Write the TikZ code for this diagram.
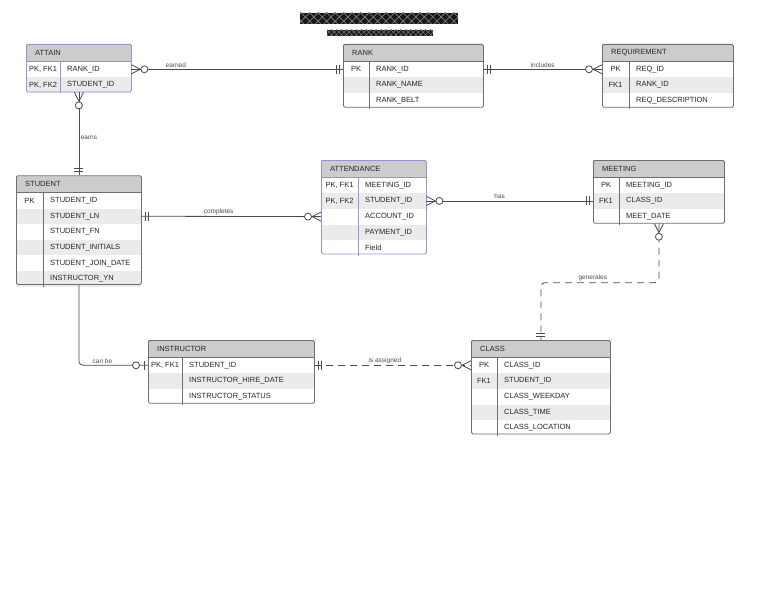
\documentclass[tikz,border=0pt]{standalone}
\usepackage{fontspec}
\setmainfont{Liberation Sans}
\usetikzlibrary{calc, positioning, decorations.markings, patterns.meta}

\definecolor{headgray}{HTML}{CCCCCC}
\definecolor{rowgray}{HTML}{EBEBEB}
\definecolor{framegray}{HTML}{6E6E6E}
\definecolor{linegray}{HTML}{4A4A4A}
\definecolor{selblue}{HTML}{9494D6}

\tikzstyle{erhead} = [rectangle, fill=headgray, minimum height=17pt, inner sep=0pt]
\tikzstyle{errow} = [rectangle, minimum height=15.3pt, inner sep=0pt]
\tikzstyle{ertext} = [font=\fontsize{7.5}{9}\selectfont, text=black!85, inner sep=0pt]
\tikzstyle{erframe} = [rectangle, rounded corners=1.5pt, line width=0.8pt, inner sep=0pt]
\tikzstyle{relation} = [draw=linegray, line width=0.8pt]
\tikzstyle{weak} = [relation, dash pattern=on 7pt off 5pt]
\tikzstyle{erlabel} = [font=\fontsize{6.5}{8}\selectfont, text=linegray, inner sep=1.5pt]

% end symbols, #1 = 1 at the start of a path, -1 at its end
\newcommand{\crowsfoot}[1]{%
  \draw[solid, linegray] (#1*9pt,0pt) -- (0pt,4.5pt) (#1*9pt,0pt) -- (0pt,-4.5pt);
  \draw[solid, linegray, fill=white] (#1*13pt,0pt) circle[radius=3.5pt];}
\newcommand{\onlyone}[1]{%
  \draw[solid, linegray] (#1*4pt,-4.5pt) -- (#1*4pt,4.5pt) (#1*7pt,-4.5pt) -- (#1*7pt,4.5pt);}
\newcommand{\zeroorone}[1]{%
  \draw[solid, linegray] (#1*4pt,-4.5pt) -- (#1*4pt,4.5pt);
  \draw[solid, linegray, fill=white] (#1*12pt,0pt) circle[radius=3.5pt];}

\tikzset{
  manystart/.style={postaction={decorate, decoration={markings, mark=at position 0 with {\crowsfoot{1}}}}},
  manyend/.style={postaction={decorate, decoration={markings, mark=at position 1 with {\crowsfoot{-1}}}}},
  onestart/.style={postaction={decorate, decoration={markings, mark=at position 0 with {\onlyone{1}}}}},
  oneend/.style={postaction={decorate, decoration={markings, mark=at position 1 with {\onlyone{-1}}}}},
  optend/.style={postaction={decorate, decoration={markings, mark=at position 1 with {\zeroorone{-1}}}}}
}

% #1 frame colour, #2 name, #3 top left, #4 width, #5 key column width, #6 rows, #7 title, #8 key/field list
\newcommand{\erentity}[8][framegray]{%
  \node[erhead, minimum width=#4, anchor=north west] (#2-head) at #3 {};
  \node[ertext, anchor=west] (#2-title) at ($(#2-head.west)+(9,0)$) {#7};
  \foreach \k/\f [count=\i, remember=\i as \j (initially 0)] in {#8} {
    \ifnum\j=0 \def\prev{#2-head}\else\def\prev{#2-\j}\fi
    \ifodd\i \def\rowfill{white}\else\def\rowfill{rowgray}\fi
    \node[errow, fill=\rowfill, minimum width=#4, below=0pt of \prev] (#2-\i) {};
    \node[ertext] (#2-k\i) at ($(#2-\i.west)+(#5/2,0)$) {\k};
    \node[ertext, anchor=west] (#2-f\i) at ($(#2-\i.west)+(#5+7,0)$) {\f};
  }
  \draw[#1, line width=0.8pt] (#2-head.south west) -- (#2-head.south east);
  \draw[#1, line width=0.9pt] ($(#2-head.south west)+(#5,0)$) -- ($(#2-#6.south west)+(#5,0)$);
  \node[erframe, draw=#1, minimum width=#4, minimum height={17+15.3*#6}, anchor=north west] (#2) at #3 {};
}

\begin{document}
\begin{tikzpicture}[x=1pt, y=-1pt]
\useasboundingbox (0,0) rectangle (768,594);

% redacted title
\fill[black!90] (300,13) rectangle (458,24);
\fill[pattern={Lines[angle=45, distance=6pt, line width=0.7pt]}, pattern color=gray] (300,13) rectangle (458,24);
\fill[pattern={Lines[angle=-45, distance=6pt, line width=0.7pt]}, pattern color=gray] (300,13) rectangle (458,24);
\fill[black!90] (327,30) rectangle (433,36);
\fill[pattern={Lines[angle=45, distance=3.5pt, line width=0.5pt]}, pattern color=gray] (327,30) rectangle (433,36);
\fill[pattern={Lines[angle=-45, distance=3.5pt, line width=0.5pt]}, pattern color=gray] (327,30) rectangle (433,36);

\erentity[selblue]{attain}{(26,44)}{105}{34}{2}{ATTAIN}{{PK, FK1}/RANK\_ID, {PK, FK2}/STUDENT\_ID}
\erentity{rank}{(343,44)}{140}{26}{3}{RANK}{PK/RANK\_ID, {}/RANK\_NAME, {}/RANK\_BELT}
\erentity{req}{(602,44)}{131}{27}{3}{REQUIREMENT}{PK/REQ\_ID, FK1/RANK\_ID, {}/REQ\_DESCRIPTION}
\erentity{student}{(16,175.3)}{125}{27}{6}{STUDENT}{PK/STUDENT\_ID, {}/STUDENT\_LN, {}/STUDENT\_FN, {}/STUDENT\_INITIALS, {}/STUDENT\_JOIN\_DATE, {}/INSTRUCTOR\_YN}
\erentity[selblue]{attend}{(321,160)}{105}{37}{5}{ATTENDANCE}{{PK, FK1}/MEETING\_ID, {PK, FK2}/STUDENT\_ID, {}/ACCOUNT\_ID, {}/PAYMENT\_ID, {}/Field}
\erentity{meeting}{(593,160)}{131}{26}{3}{MEETING}{PK/MEETING\_ID, FK1/CLASS\_ID, {}/MEET\_DATE}
\erentity{instructor}{(148,340)}{166}{34}{3}{INSTRUCTOR}{{PK, FK1}/STUDENT\_ID, {}/INSTRUCTOR\_HIRE\_DATE, {}/INSTRUCTOR\_STATUS}
\erentity{class}{(471,340)}{139}{26}{5}{CLASS}{PK/CLASS\_ID, FK1/STUDENT\_ID, {}/CLASS\_WEEKDAY, {}/CLASS\_TIME, {}/CLASS\_LOCATION}

% relationships
\draw[relation, manystart, oneend] (attain-1.east) -- node[erlabel, above, pos=0.21] (lbl-earned) {earned} (rank-1.west);
\draw[relation, onestart, manyend] (rank-1.east) -- node[erlabel, above, pos=0.5] (lbl-includes) {includes} (req-1.west);
\draw[relation, manystart, oneend] (attain.south) -- node[erlabel, right, pos=0.55] (lbl-earns) {earns} (student.north);
\draw[relation, onestart, manyend] (student-2.east) -- node[erlabel, above, pos=0.43] (lbl-completes) {completes} (attend-3.west);
\draw[relation, manystart, oneend] (attend-2.east) -- node[erlabel, above, pos=0.44] (lbl-has) {has} (meeting-2.west);
\draw[weak, manystart, oneend, rounded corners=4pt] (meeting.south) -- ++(0,59) -| node[erlabel, above, pos=0.28] (lbl-generales) {generales} (class.north);
\draw[relation, optend, rounded corners=4pt] (student.south) |- node[erlabel, above, pos=0.67] (lbl-canbe) {can be} (instructor-1.west);
\draw[weak, onestart, manyend] (instructor-1.east) -- node[erlabel, above, pos=0.45] (lbl-assigned) {is assigned} (class-1.west);
\end{tikzpicture}
\end{document}
